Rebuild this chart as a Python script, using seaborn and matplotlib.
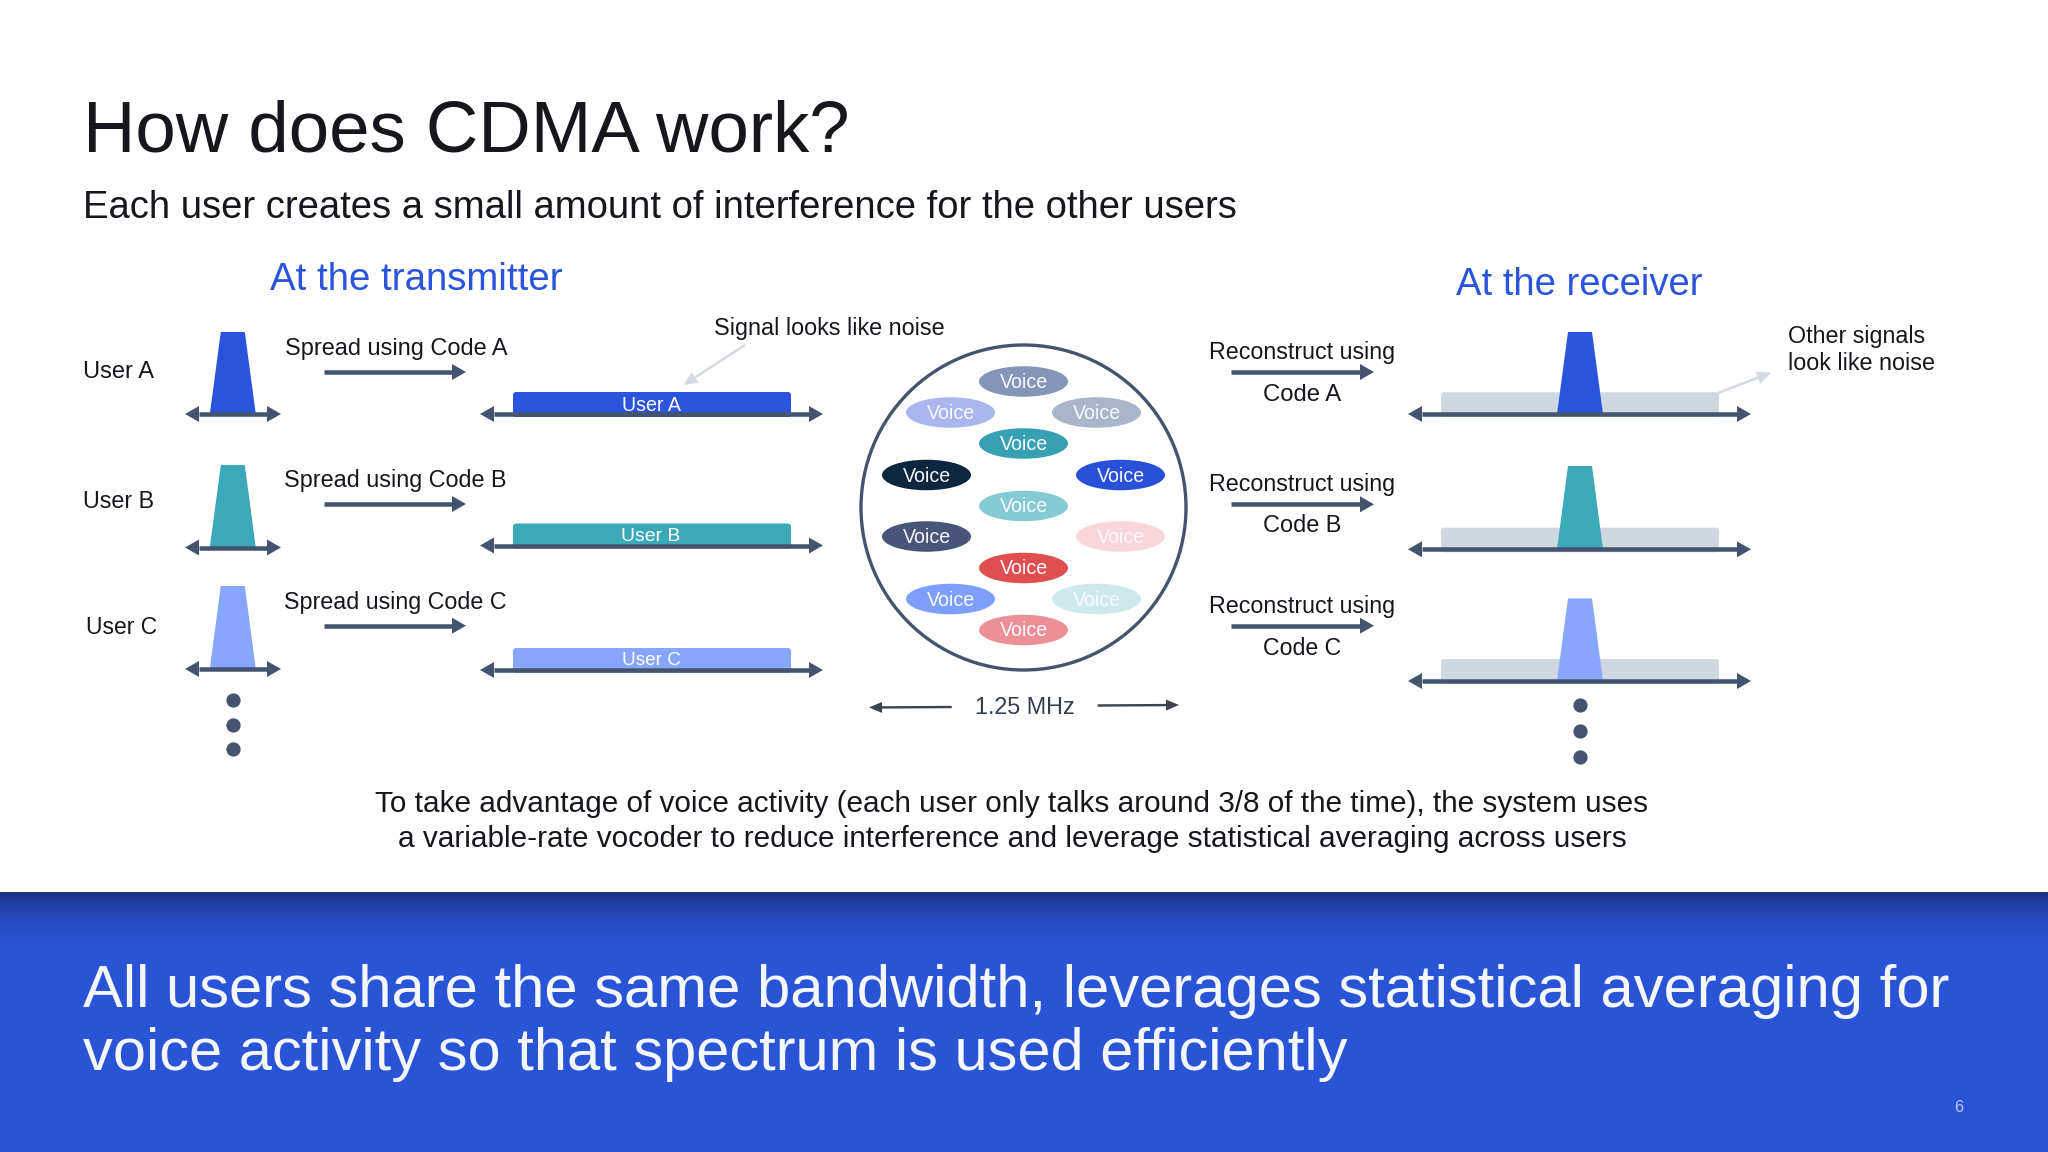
import numpy as np
import pandas as pd
import matplotlib
matplotlib.use("Agg")
import matplotlib.pyplot as plt
from matplotlib.colors import LinearSegmentedColormap
from matplotlib.patches import Ellipse, Circle, FancyBboxPatch
import seaborn as sns

sns.set_theme(style="white")
plt.rcParams["font.family"] = ["Liberation Sans", "DejaVu Sans"]

INK = "#44546F"
BLUE = "#2A54DC"
TEAL = "#3CA9B8"
PERI = "#86A6FF"
GREY = "#CFD7E1"

users = ["User A", "User B", "User C"]
user_colors = [BLUE, TEAL, PERI]
codes = ["A", "B", "C"]

voice_x = [1023.5, 950.5, 1096.5, 1023.5, 926.5, 1120.5, 1023.5, 926.5, 1120.5, 1023.5, 950.5, 1096.5, 1023.5]
voice_y = [381.5, 412.5, 412.5, 443.5, 475, 475, 506, 536.5, 536.5, 568, 599, 599, 630]
voice_colors = ["#8496B8", "#A9B7EE", "#A9B5CB", "#37A0B3", "#0C2640", "#2850D9", "#85CBD4",
                "#465578", "#F9D6DB", "#E04E50", "#7D9FFF", "#CDE9EC", "#ED9095"]

fig = plt.figure(figsize=(20.48, 11.52), dpi=100, facecolor="white")
ax = fig.add_axes([0, 0, 1, 1])
ax.set_xlim(0, 2048)
ax.set_ylim(1152, 0)
ax.axis("off")


def fit(x, y, s, width, color="#16161C", ha="left", z=6):
    """Text scaled so that its drawn width is the given number of pixels."""
    t = ax.text(x, y, s, color=color, ha=ha, va="center", fontsize=20, zorder=z,
                family=["Liberation Sans", "DejaVu Sans"])
    w = t.get_window_extent(fig.canvas.get_renderer()).width
    t.set_fontsize(20 * width / w)
    return t


def line(x0, y0, x1, y1, color=INK, lw=4.5, z=4):
    df = pd.DataFrame({"x": [x0, x1], "y": [y0, y1]})
    sns.lineplot(data=df, x="x", y="y", color=color, linewidth=lw * 0.72, ax=ax, zorder=z,
                 sort=False, estimator=None, legend=False, solid_capstyle="butt")


def head(x, y, dx, dy, color=INK, hl=14, hw=16, z=4):
    n = np.hypot(dx, dy)
    ux, uy = dx / n, dy / n
    ax.fill([x, x - ux * hl - uy * hw / 2, x - ux * hl + uy * hw / 2],
            [y, y - uy * hl + ux * hw / 2, y - uy * hl - ux * hw / 2],
            color=color, lw=0, zorder=z)


def arrow(x0, y0, x1, y1, color=INK, lw=4.5, hl=14, hw=16, both=False, z=4):
    n = np.hypot(x1 - x0, y1 - y0)
    ux, uy = (x1 - x0) / n, (y1 - y0) / n
    sx, sy = (x0 + ux * hl, y0 + uy * hl) if both else (x0, y0)
    line(sx, sy, x1 - ux * hl, y1 - uy * hl, color, lw, z)
    head(x1, y1, x1 - x0, y1 - y0, color, hl, hw, z)
    if both:
        head(x0, y0, x0 - x1, y0 - y1, color, hl, hw, z)


def trap(xc, top, base, color):
    ax.fill([xc - 23, xc - 12, xc + 12, xc + 23], [base, top, top, base], color=color, lw=0, zorder=3)


def bar(x0, x1, top, base, color, z=2):
    ax.add_patch(FancyBboxPatch((x0 + 3, top + 3), x1 - x0 - 6, base - top - 3,
                                boxstyle="round,pad=3,rounding_size=3", fc=color, ec="none", zorder=z))


# footer band with the dark shading along its top edge
ax.add_patch(plt.Rectangle((0, 892), 2048, 260, fc="#2A54D6", ec="none", zorder=1))
band_cmap = LinearSegmentedColormap.from_list(
    "band", [(0, "#1B2F82"), (0.25, "#2340A8"), (0.6, "#284CC4"), (1, "#2A54D6")])
ax.imshow(np.linspace(0, 1, 64)[:, None], cmap=band_cmap, extent=(0, 2048, 945, 892),
          aspect="auto", zorder=1.5, interpolation="bilinear")
ax.set_xlim(0, 2048)
ax.set_ylim(1152, 0)

# headings
fit(83, 133.5, "How does CDMA work?", 765)
fit(83, 208.5, "Each user creates a small amount of interference for the other users", 1152)
fit(269.5, 280.5, "At the transmitter", 291, color="#2A54DC")
fit(1456, 285, "At the receiver", 246, color="#2A54DC")

# transmitter side
tr_top = [332, 465, 586]
tr_base = [414, 547.5, 669]
wide_top = [392, 523.5, 648]
wide_base = [414, 545.5, 670]
spread_y = [348.5, 480, 602]
arrow_y = [372, 504, 625.7]
label_y = [372.5, 501, 627]
label_x = [83, 83, 86]
wide_lbl_y = [405.5, 536.5, 660.5]
for i, u in enumerate(users):
    c = user_colors[i]
    trap(232.8, tr_top[i], tr_base[i], c)
    arrow(185, tr_base[i], 281, tr_base[i], both=True)
    fit(label_x[i], label_y[i], u, 71)
    fit(284 if i else 285, spread_y[i], f"Spread using Code {codes[i]}", 222)
    arrow(324, arrow_y[i], 466, arrow_y[i])
    bar(513, 791, wide_top[i], wide_base[i], c)
    arrow(480, wide_base[i], 823, wide_base[i], both=True)
    fit(651, wide_lbl_y[i], u, 59, color="white", ha="center")

# ellipsis dots
dots = pd.DataFrame({"x": [233] * 3 + [1580] * 3,
                     "y": [700.4, 725, 749, 705.3, 731, 756.7]})
sns.scatterplot(data=dots, x="x", y="y", color=INK, s=105, linewidth=0, ax=ax, zorder=5, legend=False)

fit(713.5, 328, "Signal looks like noise", 230)
arrow(745, 345, 683.5, 385, color="#D5DAE2", lw=2.5, hl=14, hw=13)

# circle of voices
ax.add_patch(Circle((1023.5, 507.5), 162.5, fc="white", ec=INK, lw=2.4, zorder=2))
for x, y, c in zip(voice_x, voice_y, voice_colors):
    ax.add_patch(Ellipse((x, y), 89, 30.5, fc=c, ec="none", zorder=3))
    fit(x, y + 1, "Voice", 48, color="#F8FAFF", ha="center")
arrow(951.7, 707, 869, 707.5, color="#3C4450", lw=2.4, hl=13, hw=11)
arrow(1097.7, 705.5, 1179, 705, color="#3C4450", lw=2.4, hl=13, hw=11)
fit(1025, 707.5, "1.25 MHz", 100, color="#333F50", ha="center")

# receiver side
rx_top = [332, 466, 598.5]
rx_base = [414, 549.3, 681]
grey_top = [392.3, 527.7, 659]
rx_arrow_y = [372, 504.3, 625.7]
recon_y = [353, 484, 606]
code_y = [395, 526, 648.5]
for i in range(3):
    bar(1441, 1719, grey_top[i], rx_base[i], GREY)
    trap(1580, rx_top[i], rx_base[i], user_colors[i])
    arrow(1408, rx_base[i], 1751, rx_base[i], both=True)
    fit(1302.5, recon_y[i], "Reconstruct using", 186, ha="center")
    arrow(1231, rx_arrow_y[i], 1374, rx_arrow_y[i])
    fit(1302.5, code_y[i], f"Code {codes[i]}", 78, ha="center")

fit(1788, 336, "Other signals", 137)
fit(1788, 364, "look like noise", 147)
arrow(1718, 393, 1771, 372.7, color="#D5DAE2", lw=2.5, hl=14, hw=13)

# explanatory lines
fit(1012, 804, "To take advantage of voice activity (each user only talks around 3/8 of the time), the system uses",
    1270, ha="center")
fit(1012, 839, "a variable-rate vocoder to reduce interference and leverage statistical averaging across users",
    1225, ha="center")

# footer text
fit(83, 991.5, "All users share the same bandwidth, leverages statistical averaging for", 1863, color="#F5F7FF")
fit(83, 1055, "voice activity so that spectrum is used efficiently", 1264, color="#F5F7FF")
fit(1959, 1108, "6", 9, color="#B9C8F5", ha="center")

ax.set_xlabel("")
ax.set_ylabel("")
fig.savefig("out.png", dpi=100, facecolor="white")
